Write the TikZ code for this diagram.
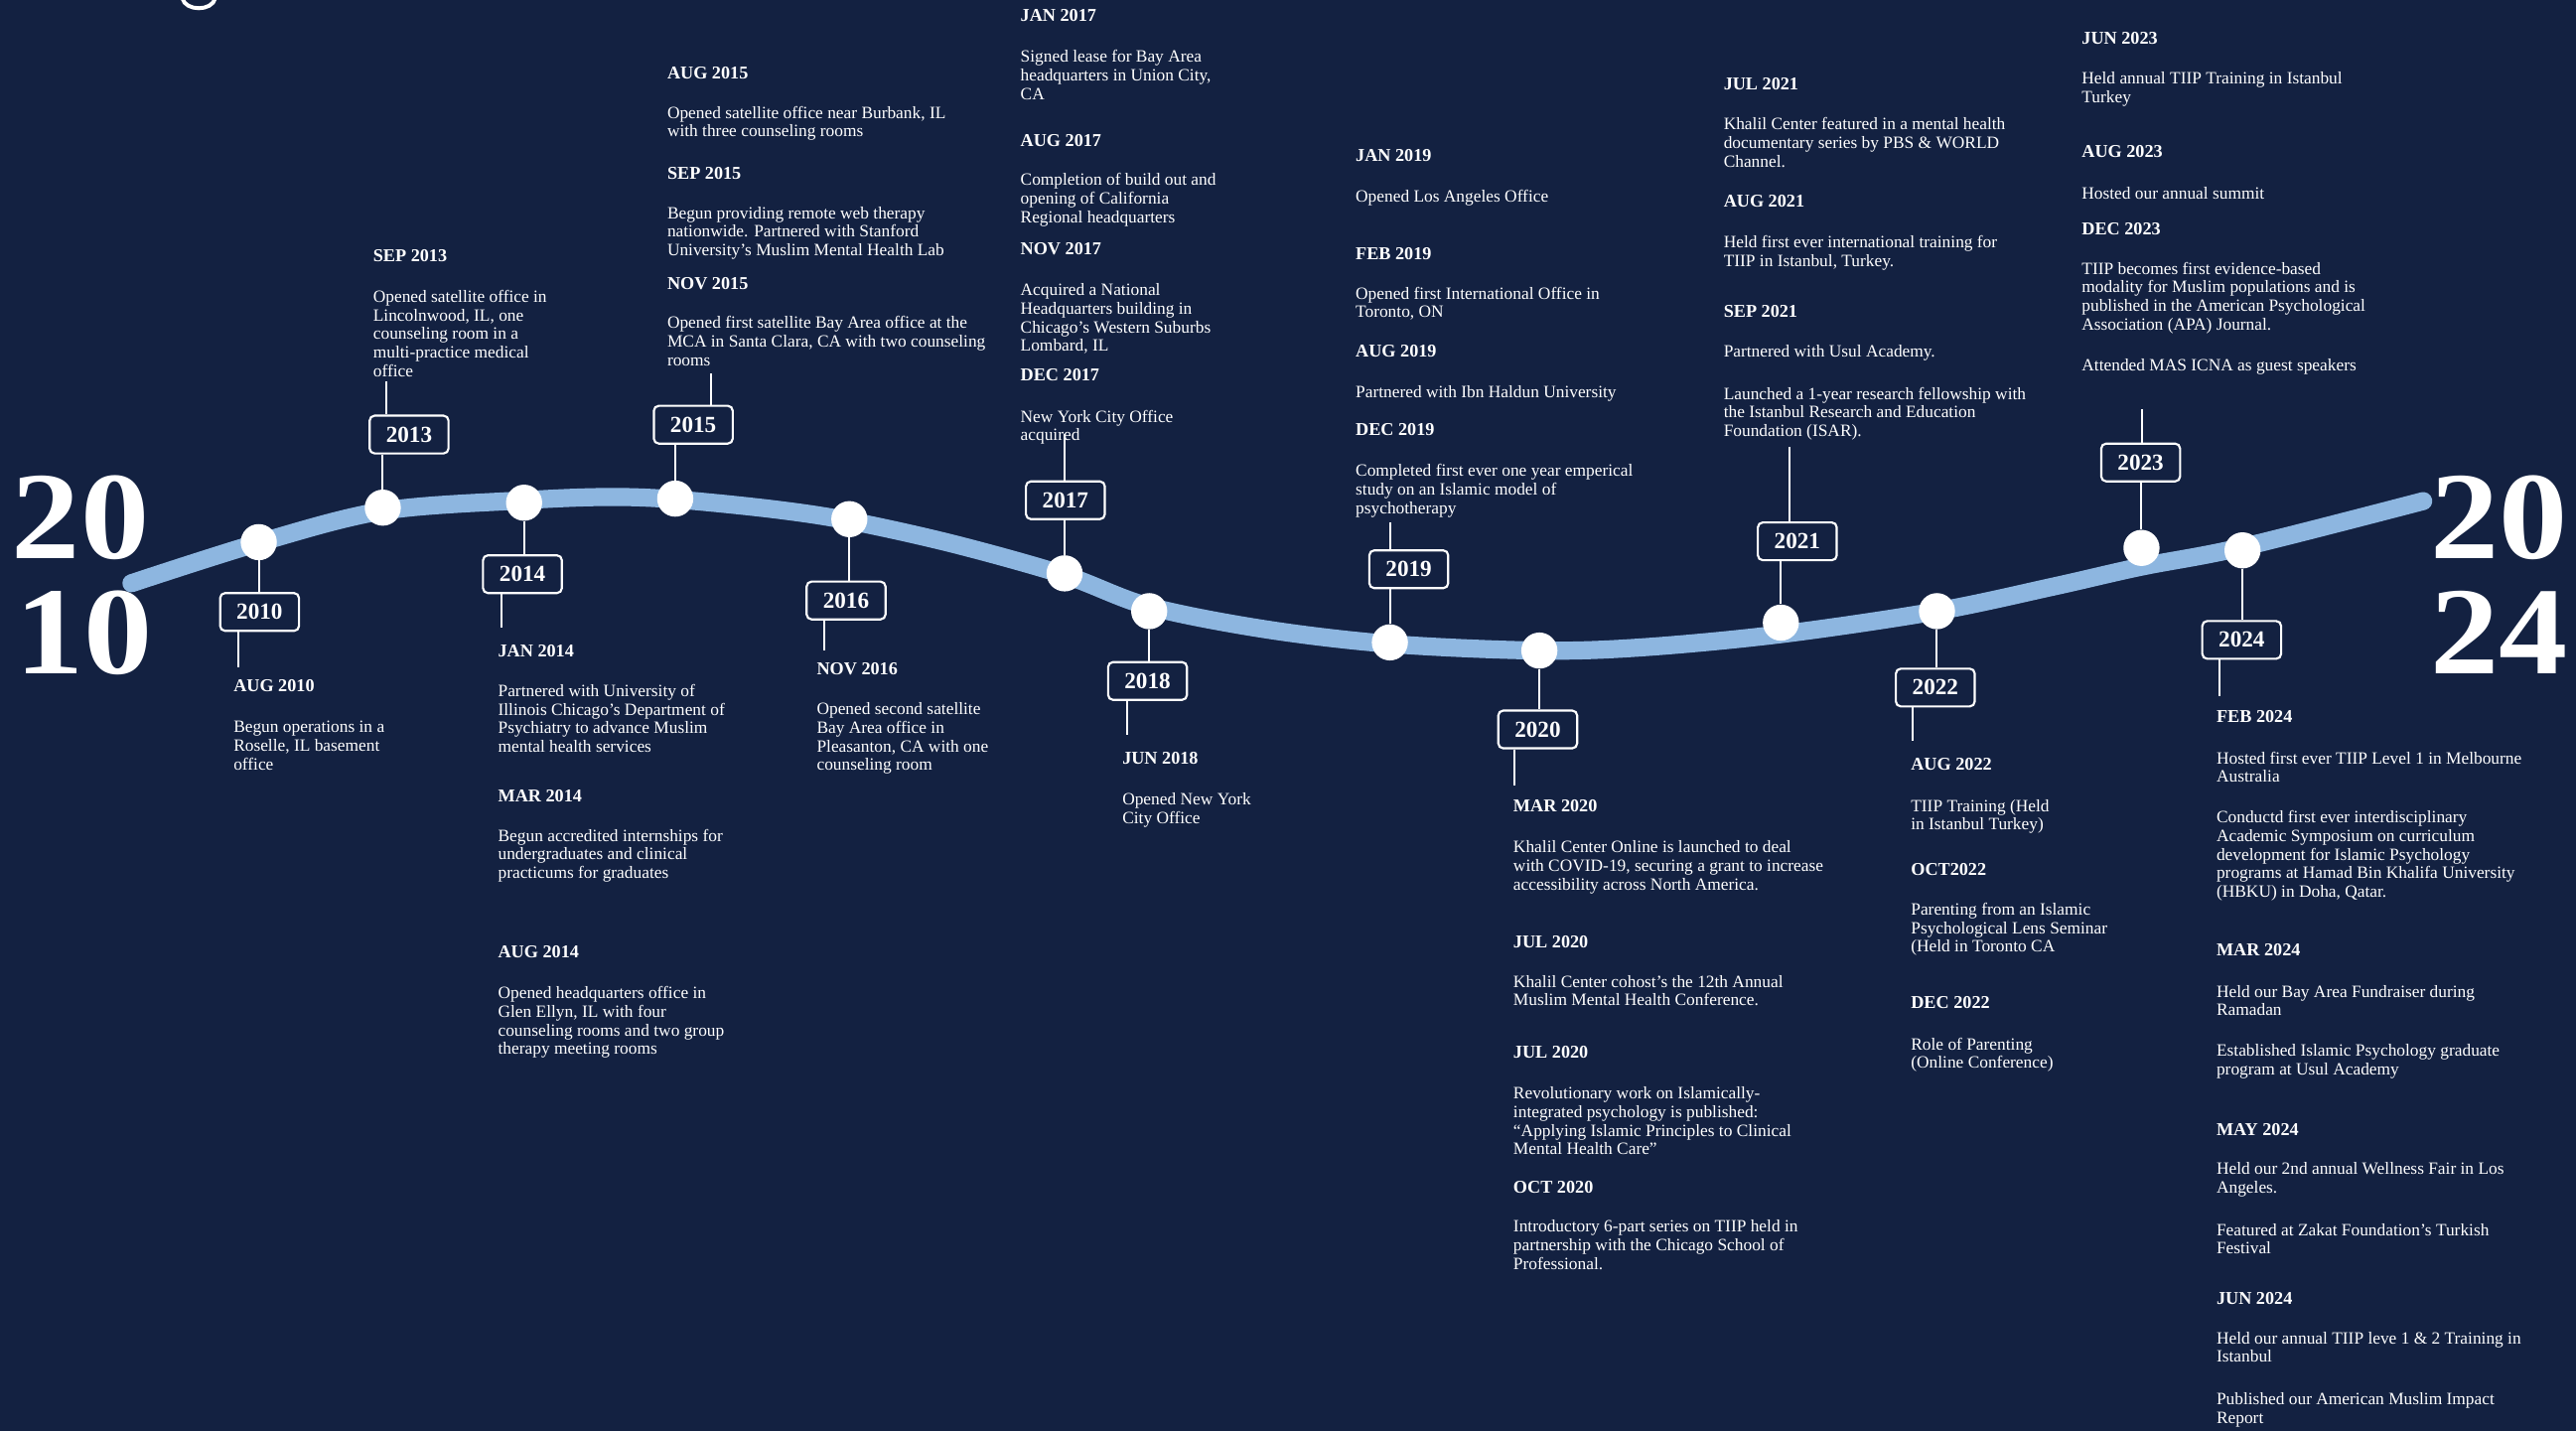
\documentclass[tikz,border=0pt]{standalone}
\usepackage{fontspec}
\setmainfont{Liberation Serif}
\definecolor{navy}{RGB}{19,33,65}
\definecolor{curveblue}{RGB}{141,182,224}
\newcommand\bodytext[1]{\parbox[t]{320pt}{\raggedright\fontsize{10.5}{11.3}\selectfont #1}}
\newcommand\bignum[1]{\scalebox{1.1}[1]{#1}}
\begin{document}
\begin{tikzpicture}[x=1pt,y=-1pt,
  conn/.style={draw=white, line width=1.2pt},
  dot/.style={circle, fill=white, minimum size=22pt, inner sep=0pt},
  yearbox/.style={draw=white, line width=1.3pt, rounded corners=3pt, fill=navy, minimum width=48pt, minimum height=23pt, inner sep=0pt, text=white, font=\fontsize{14}{14}\selectfont\bfseries},
  hd/.style={anchor=base west, inner sep=0pt, text=white, font=\fontsize{11}{11}\selectfont\bfseries},
  bd/.style={anchor=base west, inner sep=0pt, text=white},
  big/.style={anchor=base west, inner sep=0pt, text=white, font=\fontsize{76}{76}\selectfont\bfseries}]
\useasboundingbox (0,0) rectangle (1568,871);
\fill[navy] (0,0) rectangle (1568,871);
% fragment of the cut-off title
\draw[white, line width=2.4pt] (111,-1) .. controls (113,7) and (129,7) .. (131,-1);

% big years
\node[big] (L1) at (7,340) {\bignum{20}};
\node[big] (L2) at (9,410) {\bignum{10}};
\node[big] (R1) at (1479,340) {\bignum{20}};
\node[big] (R2) at (1479,410) {\bignum{24}};

% curve
\draw[curveblue, line width=11pt, line cap=round] plot[smooth, tension=0.55] coordinates {(80,355) (157,330.5) (233,311) (319,304.5) (370,302.5) (411,304) (471,310) (517,317) (580,331) (648,350) (699,369) (770,383) (847,392) (937,396) (1000,394) (1084,386) (1179,372) (1250,357) (1303,345) (1365,333) (1475,305)};

% dots
\node[dot] (d2010) at (157.5,330) {};
\node[dot] (d2013) at (233,309) {};
\node[dot] (d2014) at (319,306) {};
\node[dot] (d2015) at (411,303.5) {};
\node[dot] (d2016) at (517,316) {};
\node[dot] (d2017) at (648,349) {};
\node[dot] (d2018) at (699.5,372) {};
\node[dot] (d2019) at (846,391) {};
\node[dot] (d2020) at (937,396) {};
\node[dot] (d2021) at (1084,379) {};
\node[dot] (d2022) at (1179,372) {};
\node[dot] (d2023) at (1303.5,333.5) {};
\node[dot] (d2024) at (1365,335) {};

% year boxes
\node[yearbox] (y2010) at (158,372.5) {2010};
\node[yearbox] (y2013) at (249,264.5) {2013};
\node[yearbox] (y2014) at (318,349.5) {2014};
\node[yearbox] (y2015) at (422,258.5) {2015};
\node[yearbox] (y2016) at (515,365.5) {2016};
\node[yearbox] (y2017) at (648.5,304.5) {2017};
\node[yearbox] (y2018) at (698.5,414.5) {2018};
\node[yearbox] (y2019) at (857.5,346.5) {2019};
\node[yearbox] (y2020) at (936,444) {2020};
\node[yearbox] (y2021) at (1094,329.5) {2021};
\node[yearbox] (y2022) at (1178,418.5) {2022};
\node[yearbox] (y2023) at (1303,281.5) {2023};
\node[yearbox] (y2024) at (1364.5,389.5) {2024};

% free ends of the text-side connectors
\coordinate (e2010) at (145,406);
\coordinate (e2013) at (235,232);
\coordinate (e2014) at (305,382);
\coordinate (e2015) at (433,227);
\coordinate (e2016) at (502,396);
\coordinate (e2017) at (648,264);
\coordinate (e2018) at (686,447);
\coordinate (e2019) at (846,318);
\coordinate (e2020) at (922,478);
\coordinate (e2021) at (1089,272);
\coordinate (e2022) at (1164,451);
\coordinate (e2023) at (1304,249);
\coordinate (e2024) at (1351,424);

% connectors dot -> box
\draw[conn] (d2010.south) -- (d2010 |- y2010.north);
\draw[conn] (d2013.north) -- (d2013 |- y2013.south);
\draw[conn] (d2014.south) -- (d2014 |- y2014.north);
\draw[conn] (d2015.north) -- (d2015 |- y2015.south);
\draw[conn] (d2016.south) -- (d2016 |- y2016.north);
\draw[conn] (d2017.north) -- (d2017 |- y2017.south);
\draw[conn] (d2018.south) -- (d2018 |- y2018.north);
\draw[conn] (d2019.north) -- (d2019 |- y2019.south);
\draw[conn] (d2020.south) -- (d2020 |- y2020.north);
\draw[conn] (d2021.north) -- (d2021 |- y2021.south);
\draw[conn] (d2022.south) -- (d2022 |- y2022.north);
\draw[conn] (d2023.north) -- (d2023 |- y2023.south);
\draw[conn] (d2024.south) -- (d2024 |- y2024.north);

% connectors box -> text
\draw[conn] (y2010.south -| e2010) -- (e2010);
\draw[conn] (y2013.north -| e2013) -- (e2013);
\draw[conn] (y2014.south -| e2014) -- (e2014);
\draw[conn] (y2015.north -| e2015) -- (e2015);
\draw[conn] (y2016.south -| e2016) -- (e2016);
\draw[conn] (y2017.north -| e2017) -- (e2017);
\draw[conn] (y2018.south -| e2018) -- (e2018);
\draw[conn] (y2019.north -| e2019) -- (e2019);
\draw[conn] (y2020.south -| e2020) -- (e2020);
\draw[conn] (y2021.north -| e2021) -- (e2021);
\draw[conn] (y2022.south -| e2022) -- (e2022);
\draw[conn] (y2023.north -| e2023) -- (e2023);
\draw[conn] (y2024.south -| e2024) -- (e2024);

% ---- 2010
\node[hd] (h2010a) at (142,421) {AUG 2010};
\node[bd] (b2010a) at (142,446) {\bodytext{Begun operations in a\\Roselle, IL basement\\office}};
% ---- 2013
\node[hd] (h2013a) at (227,159) {SEP 2013};
\node[bd] (b2013a) at (227,184) {\bodytext{Opened satellite office in\\Lincolnwood, IL, one\\counseling room in a\\multi-practice medical\\office}};
% ---- 2014
\node[hd] (h2014a) at (303,400) {JAN 2014};
\node[bd] (b2014a) at (303,424) {\bodytext{Partnered with University of\\Illinois Chicago’s Department of\\Psychiatry to advance Muslim\\mental health services}};
\node[hd] (h2014b) at (303,488) {MAR 2014};
\node[bd] (b2014b) at (303,512) {\bodytext{Begun accredited internships for\\undergraduates and clinical\\practicums for graduates}};
\node[hd] (h2014c) at (303,583) {AUG 2014};
\node[bd] (b2014c) at (303,608) {\bodytext{Opened headquarters office in\\Glen Ellyn, IL with four\\counseling rooms and two group\\therapy meeting rooms}};
% ---- 2015
\node[hd] (h2015a) at (406,48) {AUG 2015};
\node[bd] (b2015a) at (406,72) {\bodytext{Opened satellite office near Burbank, IL\\with three counseling rooms}};
\node[hd] (h2015b) at (406,109) {SEP 2015};
\node[bd] (b2015b) at (406,133) {\bodytext{Begun providing remote web therapy\\nationwide. Partnered with Stanford\\University’s Muslim Mental Health Lab}};
\node[hd] (h2015c) at (406,176) {NOV 2015};
\node[bd] (b2015c) at (406,200) {\bodytext{Opened first satellite Bay Area office at the\\MCA in Santa Clara, CA with two counseling\\rooms}};
% ---- 2016
\node[hd] (h2016a) at (497,411) {NOV 2016};
\node[bd] (b2016a) at (497,435) {\bodytext{Opened second satellite\\Bay Area office in\\Pleasanton, CA with one\\counseling room}};
% ---- 2017
\node[hd] (h2017a) at (621,13) {JAN 2017};
\node[bd] (b2017a) at (621,38) {\bodytext{Signed lease for Bay Area\\headquarters in Union City,\\CA}};
\node[hd] (h2017b) at (621,89) {AUG 2017};
\node[bd] (b2017b) at (621,113) {\bodytext{Completion of build out and\\opening of California\\Regional headquarters}};
\node[hd] (h2017c) at (621,155) {NOV 2017};
\node[bd] (b2017c) at (621,180) {\bodytext{Acquired a National\\Headquarters building in\\Chicago’s Western Suburbs\\Lombard, IL}};
\node[hd] (h2017d) at (621,232) {DEC 2017};
\node[bd] (b2017d) at (621,257) {\bodytext{New York City Office\\acquired}};
% ---- 2018
\node[hd] (h2018a) at (683,465) {JUN 2018};
\node[bd] (b2018a) at (683,490) {\bodytext{Opened New York\\City Office}};
% ---- 2019
\node[hd] (h2019a) at (825,98) {JAN 2019};
\node[bd] (b2019a) at (825,123) {\bodytext{Opened Los Angeles Office}};
\node[hd] (h2019b) at (825,158) {FEB 2019};
\node[bd] (b2019b) at (825,182) {\bodytext{Opened first International Office in\\Toronto, ON}};
\node[hd] (h2019c) at (825,217) {AUG 2019};
\node[bd] (b2019c) at (825,242) {\bodytext{Partnered with Ibn Haldun University}};
\node[hd] (h2019d) at (825,265) {DEC 2019};
\node[bd] (b2019d) at (825,290) {\bodytext{Completed first ever one year emperical\\study on an Islamic model of\\psychotherapy}};
% ---- 2020
\node[hd] (h2020a) at (921,494) {MAR 2020};
\node[bd] (b2020a) at (921,519) {\bodytext{Khalil Center Online is launched to deal\\with COVID-19, securing a grant to increase\\accessibility across North America.}};
\node[hd] (h2020b) at (921,577) {JUL 2020};
\node[bd] (b2020b) at (921,601) {\bodytext{Khalil Center cohost’s the 12th Annual\\Muslim Mental Health Conference.}};
\node[hd] (h2020c) at (921,644) {JUL 2020};
\node[bd] (b2020c) at (921,669) {\bodytext{Revolutionary work on Islamically-\\integrated psychology is published:\\“Applying Islamic Principles to Clinical\\Mental Health Care”}};
\node[hd] (h2020d) at (921,726) {OCT 2020};
\node[bd] (b2020d) at (921,750) {\bodytext{Introductory 6-part series on TIIP held in\\partnership with the Chicago School of\\Professional.}};
% ---- 2021
\node[hd] (h2021a) at (1049,55) {JUL 2021};
\node[bd] (b2021a) at (1049,79) {\bodytext{Khalil Center featured in a mental health\\documentary series by PBS \& WORLD\\Channel.}};
\node[hd] (h2021b) at (1049,126) {AUG 2021};
\node[bd] (b2021b) at (1049,151) {\bodytext{Held first ever international training for\\TIIP in Istanbul, Turkey.}};
\node[hd] (h2021c) at (1049,193) {SEP 2021};
\node[bd] (b2021c) at (1049,217) {\bodytext{Partnered with Usul Academy.}};
\node[bd] (b2021d) at (1049,243) {\bodytext{Launched a 1-year research fellowship with\\the Istanbul Research and Education\\Foundation (ISAR).}};
% ---- 2022
\node[hd] (h2022a) at (1163,469) {AUG 2022};
\node[bd] (b2022a) at (1163,494) {\bodytext{TIIP Training (Held\\in Istanbul Turkey)}};
\node[hd] (h2022b) at (1163,533) {OCT2022};
\node[bd] (b2022b) at (1163,557) {\bodytext{Parenting from an Islamic\\Psychological Lens Seminar\\(Held in Toronto CA}};
\node[hd] (h2022c) at (1163,614) {DEC 2022};
\node[bd] (b2022c) at (1163,639) {\bodytext{Role of Parenting\\(Online Conference)}};
% ---- 2023
\node[hd] (h2023a) at (1267,27) {JUN 2023};
\node[bd] (b2023a) at (1267,51) {\bodytext{Held annual TIIP Training in Istanbul\\Turkey}};
\node[hd] (h2023b) at (1267,96) {AUG 2023};
\node[bd] (b2023b) at (1267,121) {\bodytext{Hosted our annual summit}};
\node[hd] (h2023c) at (1267,143) {DEC 2023};
\node[bd] (b2023c) at (1267,167) {\bodytext{TIIP becomes first evidence-based\\modality for Muslim populations and is\\published in the American Psychological\\Association (APA) Journal.}};
\node[bd] (b2023d) at (1267,226) {\bodytext{Attended MAS ICNA as guest speakers}};
% ---- 2024
\node[hd] (h2024a) at (1349,440) {FEB 2024};
\node[bd] (b2024a) at (1349,465) {\bodytext{Hosted first ever TIIP Level 1 in Melbourne\\Australia}};
\node[bd] (b2024b) at (1349,501) {\bodytext{Conductd first ever interdisciplinary\\Academic Symposium on curriculum\\development for Islamic Psychology\\programs at Hamad Bin Khalifa University\\(HBKU) in Doha, Qatar.}};
\node[hd] (h2024b) at (1349,582) {MAR 2024};
\node[bd] (b2024c) at (1349,607) {\bodytext{Held our Bay Area Fundraiser during\\Ramadan}};
\node[bd] (b2024d) at (1349,643) {\bodytext{Established Islamic Psychology graduate\\program at Usul Academy}};
\node[hd] (h2024c) at (1349,691) {MAY 2024};
\node[bd] (b2024e) at (1349,715) {\bodytext{Held our 2nd annual Wellness Fair in Los\\Angeles.}};
\node[bd] (b2024f) at (1349,752) {\bodytext{Featured at Zakat Foundation’s Turkish\\Festival}};
\node[hd] (h2024d) at (1349,794) {JUN 2024};
\node[bd] (b2024g) at (1349,818) {\bodytext{Held our annual TIIP leve 1 \& 2 Training in\\Istanbul}};
\node[bd] (b2024h) at (1349,855) {\bodytext{Published our American Muslim Impact\\Report}};
\end{tikzpicture}
\end{document}
